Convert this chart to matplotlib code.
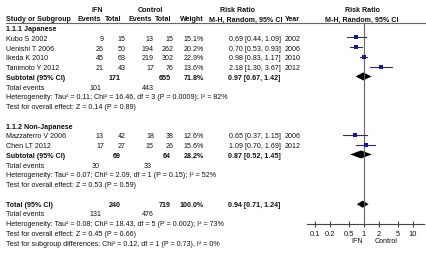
import matplotlib
matplotlib.use('Agg')
import matplotlib.pyplot as plt
import numpy as np

plt.rcParams['font.family'] = ['Liberation Sans', 'DejaVu Sans']

# 1.1.1 Japanese
jp_study = ['Kubo S 2002', 'Uenishi T 2006', 'Ikeda K 2010', 'Tanimoto Y 2012']
jp_ifn_ev = [9, 26, 45, 21]
jp_ifn_n = [15, 50, 63, 43]
jp_ctl_ev = [13, 194, 219, 17]
jp_ctl_n = [15, 262, 302, 76]
jp_weight = [15.1, 20.2, 22.9, 13.6]
jp_rr = [0.69, 0.70, 0.98, 2.18]
jp_lo = [0.44, 0.53, 0.83, 1.30]
jp_hi = [1.09, 0.93, 1.17, 3.67]
jp_year = [2002, 2006, 2010, 2012]
jp_sub = [171, 655, 71.8, 0.97, 0.67, 1.42]
jp_events = [101, 443]
jp_het = 'Heterogeneity: Tau² = 0.11; Chi² = 16.46, df = 3 (P = 0.0009); I² = 82%'
jp_test = 'Test for overall effect: Z = 0.14 (P = 0.89)'

# 1.1.2 Non-Japanese
nj_study = ['Mazzaferro V 2006', 'Chen LT 2012']
nj_ifn_ev = [13, 17]
nj_ifn_n = [42, 27]
nj_ctl_ev = [18, 15]
nj_ctl_n = [38, 26]
nj_weight = [12.6, 15.6]
nj_rr = [0.65, 1.09]
nj_lo = [0.37, 0.70]
nj_hi = [1.15, 1.69]
nj_year = [2006, 2012]
nj_sub = [69, 64, 28.2, 0.87, 0.52, 1.45]
nj_events = [30, 33]
nj_het = 'Heterogeneity: Tau² = 0.07; Chi² = 2.09, df = 1 (P = 0.15); I² = 52%'
nj_test = 'Test for overall effect: Z = 0.53 (P = 0.59)'

# overall
tot = [240, 719, 100.0, 0.94, 0.71, 1.24]
tot_events = [131, 476]
tot_het = 'Heterogeneity: Tau² = 0.08; Chi² = 18.43, df = 5 (P = 0.002); I² = 73%'
tot_test = 'Test for overall effect: Z = 0.45 (P = 0.66)'
sub_test = 'Test for subgroup differences: Chi² = 0.12, df = 1 (P = 0.73), I² = 0%'

ticks = [0.1, 0.2, 0.5, 1, 2, 5, 10]
tick_labels = ['0.1', '0.2', '0.5', '1', '2', '5', '10']

W, H = 427, 255
fig = plt.figure(figsize=(W / 100, H / 100), dpi=100)
fig.patch.set_facecolor('white')

# text layer in pixel coordinates
tx = fig.add_axes([0, 0, 1, 1])
tx.set_xlim(0, W)
tx.set_ylim(H, 0)
tx.axis('off')

fs = 5.15
sq_col = '#1414b4'
ci_col = '#30305a'


def row(i):
    return 10.2 + 9.75 * i


def t(x, i, s, ha='left', bold=False):
    tx.text(x, row(i), s, ha=ha, va='center', fontsize=fs,
            fontweight='bold' if bold else 'normal', color='#111111')


# header
t(97, 0, 'IFN', ha='center', bold=True)
t(150, 0, 'Control', ha='center', bold=True)
t(237, 0, 'Risk Ratio', ha='center', bold=True)
t(362, 0, 'Risk Ratio', ha='center', bold=True)
t(6, 1, 'Study or Subgroup', bold=True)
t(101, 1, 'Events', ha='right', bold=True)
t(121, 1, 'Total', ha='right', bold=True)
t(152, 1, 'Events', ha='right', bold=True)
t(171, 1, 'Total', ha='right', bold=True)
t(204, 1, 'Weight', ha='right', bold=True)
t(209, 1, 'M-H, Random, 95% CI', bold=True)
t(285, 1, 'Year', bold=True)
t(362, 1, 'M-H, Random, 95% CI', ha='center', bold=True)
tx.plot([6, W], [24, 24], color='#666666', lw=0.8)


def block(start, title, study, iev, inn, cev, cn, wt, rr, lo, hi, yr, sub, ev, het, test):
    t(6, start, title, bold=True)
    for k in range(len(study)):
        i = start + 1 + k
        t(6, i, study[k])
        t(104, i, str(iev[k]), ha='right')
        t(126, i, str(inn[k]), ha='right')
        t(154, i, str(cev[k]), ha='right')
        t(174, i, str(cn[k]), ha='right')
        t(204, i, '%.1f%%' % wt[k], ha='right')
        t(229, i, '%.2f [%.2f, %.2f]' % (rr[k], lo[k], hi[k]))
        t(285, i, str(yr[k]))
    i = start + 1 + len(study)
    t(6, i, 'Subtotal (95% CI)', bold=True)
    t(121, i, str(sub[0]), ha='right', bold=True)
    t(171, i, str(sub[1]), ha='right', bold=True)
    t(204, i, '%.1f%%' % sub[2], ha='right', bold=True)
    t(228, i, '%.2f [%.2f, %.2f]' % (sub[3], sub[4], sub[5]), bold=True)
    t(6, i + 1, 'Total events')
    t(96, i + 1, str(ev[0]), ha='center')
    t(148, i + 1, str(ev[1]), ha='center')
    t(6, i + 2, het)
    t(6, i + 3, test)


block(2, '1.1.1 Japanese', jp_study, jp_ifn_ev, jp_ifn_n, jp_ctl_ev, jp_ctl_n,
      jp_weight, jp_rr, jp_lo, jp_hi, jp_year, jp_sub, jp_events, jp_het, jp_test)
block(12, '1.1.2 Non-Japanese', nj_study, nj_ifn_ev, nj_ifn_n, nj_ctl_ev, nj_ctl_n,
      nj_weight, nj_rr, nj_lo, nj_hi, nj_year, nj_sub, nj_events, nj_het, nj_test)

t(6, 20, 'Total (95% CI)', bold=True)
t(121, 20, str(tot[0]), ha='right', bold=True)
t(171, 20, str(tot[1]), ha='right', bold=True)
t(204, 20, '%.1f%%' % tot[2], ha='right', bold=True)
t(228, 20, '%.2f [%.2f, %.2f]' % (tot[3], tot[4], tot[5]), bold=True)
t(6, 21, 'Total events')
t(96, 21, str(tot_events[0]), ha='center')
t(148, 21, str(tot_events[1]), ha='center')
t(6, 22, tot_het)
t(6, 23, tot_test)
t(6, 24, sub_test)

t(357, 23.7, 'IFN', ha='center')
t(386, 23.7, 'Control', ha='center')

# forest plot axes: x log scale, y in pixel rows
y_top, y_bot = 24, 225
ax = fig.add_axes([307 / W, 1 - y_bot / H, (424 - 307) / W, (y_bot - y_top) / H])
ax.set_xscale('log')
ax.set_xlim(10 ** (-1 - 8 / 49), 10 ** (1 + 11 / 49))
ax.set_ylim(y_bot, y_top)
ax.patch.set_alpha(0)
for s in ['left', 'right', 'top']:
    ax.spines[s].set_visible(False)
ax.spines['bottom'].set_color('#444444')
ax.spines['bottom'].set_linewidth(0.8)
ax.set_yticks([])
ax.set_xticks(ticks)
ax.set_xticklabels(tick_labels)
ax.minorticks_off()
ax.tick_params(axis='x', direction='inout', length=4, width=0.8, color='#444444',
               labelsize=fs + 0.3, pad=2, labelcolor='#111111')
ax.axvline(1, color='#666666', lw=0.8)


def forest(start, rr, lo, hi, wt, sub):
    for k in range(len(rr)):
        y = row(start + 1 + k) - 1
        ax.plot([lo[k], hi[k]], [y, y], color=ci_col, lw=0.8)
        ax.plot(rr[k], y, marker='s', color=sq_col, ms=0.62 * np.sqrt(wt[k]), mew=0)
    y = row(start + 1 + len(rr)) - 1
    ax.fill([sub[4], sub[3], sub[5], sub[3]], [y, y - 4, y, y + 4], color='black', lw=0)


forest(2, jp_rr, jp_lo, jp_hi, jp_weight, jp_sub)
forest(12, nj_rr, nj_lo, nj_hi, nj_weight, nj_sub)
yt = row(20)
ax.fill([tot[4], tot[3], tot[5], tot[3]], [yt, yt - 3.5, yt, yt + 3.5], color='black', lw=0)

fig.savefig('out.png', dpi=100, facecolor='white')
